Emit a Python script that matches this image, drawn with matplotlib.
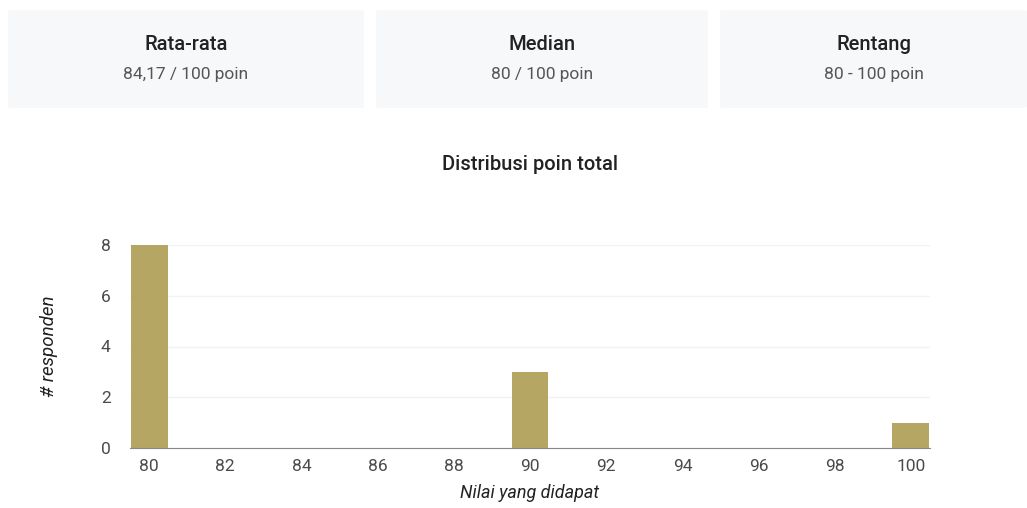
import matplotlib
matplotlib.use("Agg")
import matplotlib.pyplot as plt
from matplotlib.patches import FancyBboxPatch

# summary cards
card_titles = ["Rata-rata", "Median", "Rentang"]
card_values = ["84,17 / 100 poin", "80 / 100 poin", "80 - 100 poin"]

# histogram data
scores = [80, 90, 100]
counts = [8, 3, 1]
x_ticks = [80, 82, 84, 86, 88, 90, 92, 94, 96, 98, 100]
y_ticks = [0, 2, 4, 6, 8]

bar_color = "#b6a664"
text_color = "#4a4a4a"

plt.rcParams['font.family'] = ['Roboto', 'DejaVu Sans']

fig = plt.figure(figsize=(10.27, 5.08), dpi=100)

# card boxes (figure pixel coords -> fraction)
W, H = 1027, 508
card_boxes = [(8, 364), (376, 708), (720, 1027)]
card_top, card_bottom = 10, 108
for (x0, x1), title, value in zip(card_boxes, card_titles, card_values):
    box = FancyBboxPatch((x0 / W, 1 - card_bottom / H), (x1 - x0) / W, (card_bottom - card_top) / H,
                         boxstyle="round,pad=0,rounding_size=0.004", transform=fig.transFigure,
                         facecolor="#f7f8fa", edgecolor="none")
    fig.patches.append(box)
    cx = (x0 + x1) / 2 / W
    fig.text(cx, 1 - 45 / H, title, ha="center", va="center", fontsize=14.5,
             fontweight="medium", color="#222222")
    fig.text(cx, 1 - 74 / H, value, ha="center", va="center", fontsize=12.5, color="#555555")

fig.text(530 / W, 1 - 164 / H, "Distribusi poin total", ha="center", va="center",
         fontsize=14.5, fontweight="medium", color="#222222")

ax = fig.add_axes([130 / W, 1 - 448 / H, 800 / W, 203 / H])
ax.bar(scores, counts, width=0.97, color=bar_color, zorder=3)
ax.set_xlim(79.5, 100.5)
ax.set_ylim(0, 8)
ax.set_xticks(x_ticks)
ax.set_yticks(y_ticks)
ax.tick_params(length=0, labelsize=12.5, colors=text_color)
ax.tick_params(axis="x", pad=8)
ax.tick_params(axis="y", pad=14)
ax.grid(axis="y", color="#f2f2f2", linewidth=1, zorder=0)
for side in ["top", "right", "left"]:
    ax.spines[side].set_visible(False)
ax.spines["bottom"].set_color("#888888")
ax.spines["bottom"].set_zorder(4)
ax.set_xlabel("Nilai yang didapat", fontsize=13, style="italic", color="#222222", labelpad=7)
ax.set_ylabel("# responden", fontsize=13.5, style="italic", color="#222222", labelpad=31)

fig.savefig("out.png", dpi=100)
